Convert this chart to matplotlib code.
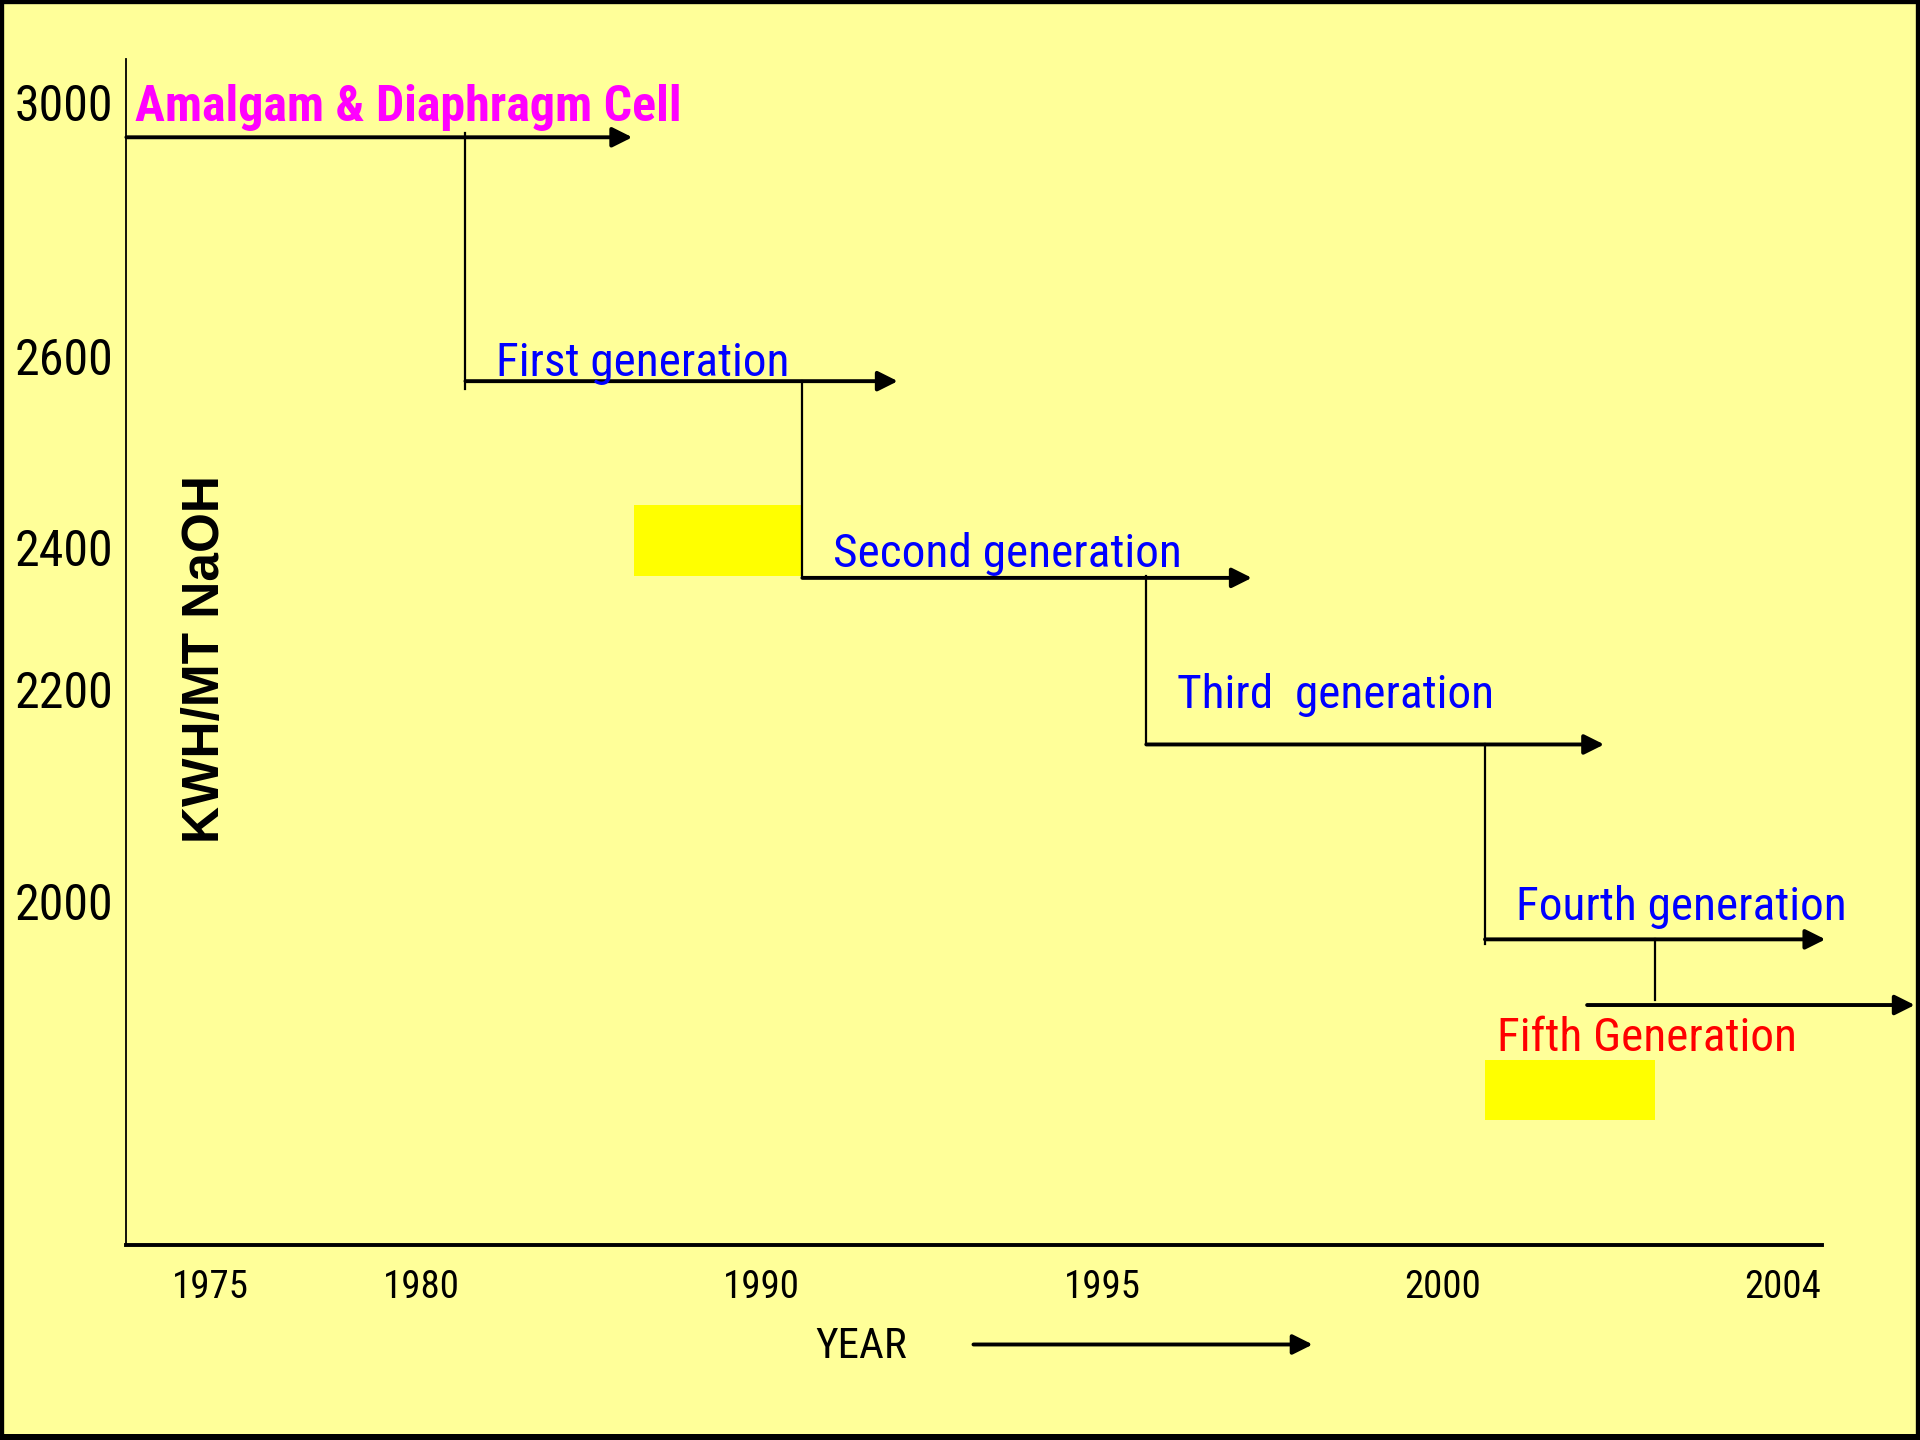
import numpy as np
import matplotlib.pyplot as plt
from matplotlib.patches import Rectangle, FancyArrowPatch

# tick labels
year_ticks = [1975, 1980, 1990, 1995, 2000, 2004]
kwh_ticks = [2000, 2200, 2400, 2600, 3000]

# steps (start year, end year, KWH/MT level)
step_names = ["Amalgam & Diaphragm Cell", "First generation", "Second generation",
              "Third  generation", "Fourth generation", "Fifth Generation"]
step_start = [1973.0, 1981.3, 1990.6, 1995.65, 2000.5, 2001.7]
step_end = [1986.2, 1992.0, 1997.2, 2001.9, 2004.5, 2005.55]
step_level = [2944, 2574, 2357, 2148, 1964, 1902]
step_colors = ["#FF00FF", "#0000FF", "#0000FF", "#0000FF", "#0000FF", "#FF0000"]

# vertical connectors (year, top level, bottom level)
conn_year = [1981.3, 1990.6, 1995.65, 2000.5, 2002.5]
conn_top = [2950, 2574, 2360, 2148, 1964]
conn_bottom = [2566, 2357, 2148, 1960, 1907]

# yellow highlight boxes (year from, year to, level from, level to)
box_x0 = [1986.26, 2000.5]
box_x1 = [1990.59, 2002.5]
box_y0 = [2360, 1793]
box_y1 = [2444, 1850]

# the original drawing spaces its ticks unevenly, so map values to positions
x_anchor_val = [1970, 1975, 1980, 1990, 1995, 2000, 2004, 2010]
x_anchor_pos = [0, 172, 344, 622, 900, 1178, 1456, 1873]
y_anchor_val = [1500, 2000, 2200, 2400, 2600, 3000, 3200]
y_anchor_pos = [-1168.5, -736, -563, -447, -291, -83, 21]


def fwd_x(v):
    return np.interp(v, x_anchor_val, x_anchor_pos)


def inv_x(p):
    return np.interp(p, x_anchor_pos, x_anchor_val)


def fwd_y(v):
    return np.interp(v, y_anchor_val, y_anchor_pos)


def inv_y(p):
    return np.interp(p, y_anchor_pos, y_anchor_val)


narrow = ["Roboto Condensed", "Liberation Sans"]

bg = "#FFFF99"
fig = plt.figure(figsize=(19.2, 14.4), dpi=100, facecolor=bg)
ax = fig.add_axes([103 / 1568, 1 - 1017 / 1176, (1488 - 103) / 1568, (1017 - 48) / 1176])
ax.set_facecolor(bg)
ax.set_xscale("function", functions=(fwd_x, inv_x))
ax.set_yscale("function", functions=(fwd_y, inv_y))
ax.set_xlim(inv_x(103), inv_x(1488))
ax.set_ylim(inv_y(-1017), inv_y(-48))

for s in ["top", "right"]:
    ax.spines[s].set_visible(False)
ax.spines["left"].set_linewidth(1.3)
ax.spines["bottom"].set_linewidth(2.8)

ax.set_xticks(year_ticks)
ax.set_xticklabels([str(y) for y in year_ticks], fontfamily=narrow, fontsize=28)
ax.set_yticks(kwh_ticks)
ax.set_yticklabels([str(k) for k in kwh_ticks], fontfamily=narrow, fontsize=36)
ax.tick_params(axis="x", length=0, pad=17)
ax.tick_params(axis="y", length=0, pad=9)
ax.minorticks_off()

# highlight boxes
for x0, x1, y0, y1 in zip(box_x0, box_x1, box_y0, box_y1):
    ax.add_patch(Rectangle((x0, y0), x1 - x0, y1 - y0, facecolor="#FFFF00", edgecolor="none"))

# connectors
for x, t, b in zip(conn_year, conn_top, conn_bottom):
    ax.plot([x, x], [b, t], color="black", lw=1.6, clip_on=False)

# step arrows
for s, e, lvl in zip(step_start, step_end, step_level):
    ax.annotate("", xy=(e, lvl), xytext=(s, lvl), annotation_clip=False,
                arrowprops=dict(arrowstyle="-|>", color="black", lw=2.8,
                                mutation_scale=30, shrinkA=0, shrinkB=0))

# labels (offset in points from the step start)
label_dx = [6, 22, 22, 22, 22, -65]
label_dy = [12, 4, 8, 26, 14, -33]
for i, name in enumerate(step_names):
    ax.annotate(name, xy=(step_start[i], step_level[i]), xytext=(label_dx[i], label_dy[i]),
                textcoords="offset points", ha="left", va="baseline",
                color=step_colors[i], fontfamily=narrow, fontsize=36 if i == 0 else 34,
                fontweight="bold" if i == 0 else "normal", annotation_clip=False)

fig.text(168 / 1568, 1 - 538 / 1176, "KWH/MT NaOH", rotation=90, ha="center", va="center",
         fontfamily="Liberation Sans", fontweight="bold", fontsize=37)

fig.text(703 / 1568, 1 - 1100 / 1176, "YEAR", ha="center", va="center",
         fontfamily=narrow, fontsize=31)
fig.patches.append(FancyArrowPatch(
    (795 / 1568, 1 - 1098 / 1176), (1072 / 1568, 1 - 1098 / 1176),
    transform=fig.transFigure, arrowstyle="-|>", color="black", lw=2.8,
    mutation_scale=30, shrinkA=0, shrinkB=0))

# black frame
fig.add_artist(Rectangle((0, 0), 1, 1, transform=fig.transFigure, fill=False,
                         edgecolor="black", lw=6))
fig.add_artist(Rectangle((0, 0), 1, 6 / 1440, transform=fig.transFigure,
                         facecolor="black", edgecolor="none"))

fig.savefig("out.png", dpi=100, facecolor=bg)
